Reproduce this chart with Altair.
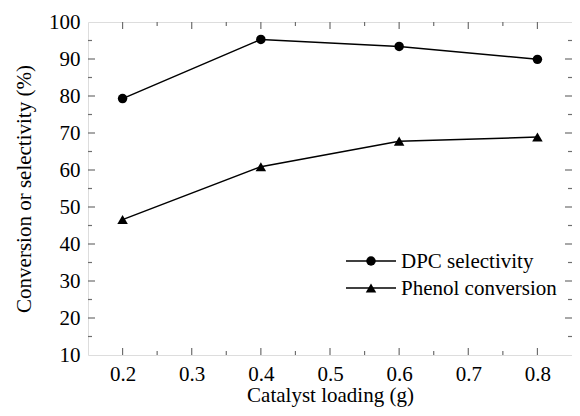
import altair as alt
import pandas as pd

loading = [0.2, 0.4, 0.6, 0.8]
dpc_selectivity = [79.3, 95.3, 93.4, 89.9]
phenol_conversion = [46.6, 60.9, 67.8, 68.9]
series_names = ["DPC selectivity", "Phenol conversion"]

x_major = [0.2, 0.3, 0.4, 0.5, 0.6, 0.7, 0.8]
x_minor = [0.25, 0.35, 0.45, 0.55, 0.65, 0.75]
y_labels = [10, 20, 30, 40, 50, 60, 70, 80, 90, 100]
y_major = [20, 30, 40, 50, 60, 70, 80, 90]
y_minor = [15, 25, 35, 45, 55, 65, 75, 85, 95]
x_domain = [0.15, 0.85]
y_domain = [10, 100]

W, H = 484, 333
FONT = "Liberation Serif"
FS = 21
GRAY = "#6e6e6e"

df = pd.DataFrame({
    "x": loading * 2,
    "y": dpc_selectivity + phenol_conversion,
    "s": [series_names[0]] * 4 + [series_names[1]] * 4,
})

xs = alt.Scale(domain=x_domain, nice=False, zero=False)
ys = alt.Scale(domain=y_domain, nice=False, zero=False)

xax = alt.Axis(values=x_major, format=".1f", title="Catalyst loading (g)",
               labelPadding=8, titlePadding=0, labelOverlap=False,
               labelFont=FONT, labelFontSize=FS, titleFont=FONT, titleFontSize=FS)
yax = alt.Axis(values=y_labels, title="Conversion or selectivity (%)",
               labelPadding=8, titlePadding=14, labelOverlap=False,
               labelFont=FONT, labelFontSize=FS, titleFont=FONT, titleFontSize=FS)

base = alt.Chart(df)
lines = base.mark_line(color="black", strokeWidth=1.5).encode(
    x=alt.X("x:Q", scale=xs, axis=xax),
    y=alt.Y("y:Q", scale=ys, axis=yax),
    detail="s:N",
)
pts = base.mark_point(filled=True, color="black", opacity=1).encode(
    x=alt.X("x:Q", scale=xs, axis=xax),
    y=alt.Y("y:Q", scale=ys, axis=yax),
    shape=alt.Shape("s:N", scale=alt.Scale(domain=series_names, range=["circle", "triangle-up"]), legend=None),
    size=alt.Size("s:N", scale=alt.Scale(domain=series_names, range=[90, 110]), legend=None),
)

def xticks(vals, length):
    d = pd.DataFrame({"t": vals})
    bot = alt.Chart(d).mark_rule(color=GRAY, strokeWidth=1.2).encode(
        x=alt.X("t:Q", scale=xs, axis=xax), y=alt.value(H), y2=alt.value(H - length))
    top = alt.Chart(d).mark_rule(color=GRAY, strokeWidth=1.2).encode(
        x=alt.X("t:Q", scale=xs, axis=xax), y=alt.value(0), y2=alt.value(length))
    return bot + top

def yticks(vals, length):
    d = pd.DataFrame({"t": vals})
    left = alt.Chart(d).mark_rule(color=GRAY, strokeWidth=1.2).encode(
        y=alt.Y("t:Q", scale=ys, axis=yax), x=alt.value(0), x2=alt.value(length))
    right = alt.Chart(d).mark_rule(color=GRAY, strokeWidth=1.2).encode(
        y=alt.Y("t:Q", scale=ys, axis=yax), x=alt.value(W), x2=alt.value(W - length))
    return left + right

ticks = xticks(x_major, 7) + xticks(x_minor, 4) + yticks(y_major, 7) + yticks(y_minor, 4)

# legend
leg_x0, leg_x1, leg_xm, leg_tx = 258, 308, 283, 313
leg_rows = [239, 266]
legend_layers = []
for i, name in enumerate(series_names):
    d = pd.DataFrame({"s": [name]})
    legend_layers.append(alt.Chart(d).mark_rule(color="black", strokeWidth=1.5).encode(
        x=alt.value(leg_x0), x2=alt.value(leg_x1), y=alt.value(leg_rows[i])))
    legend_layers.append(alt.Chart(d).mark_point(
        filled=True, color="black", opacity=1,
        shape=["circle", "triangle-up"][i], size=[90, 110][i]).encode(
        x=alt.value(leg_xm), y=alt.value(leg_rows[i])))
    legend_layers.append(alt.Chart(d).mark_text(
        font=FONT, fontSize=FS, align="left", baseline="middle", color="black").encode(
        x=alt.value(leg_tx), y=alt.value(leg_rows[i] + 1), text="s:N"))

chart = alt.layer(lines, pts, ticks, *legend_layers).properties(
    width=W, height=H,
    autosize=alt.AutoSizeParams(type="none"),
    padding={"left": 80, "top": 14, "right": 0, "bottom": 52},
).configure_view(stroke=GRAY, strokeWidth=1.6).configure(
    background="white", font=FONT
).configure_axis(
    ticks=False, grid=False, domain=False, labelFont=FONT, labelFontSize=FS,
    titleFont=FONT, titleFontSize=FS, titleFontWeight="normal",
    labelColor="black", titleColor="black", labelOverlap=False,
)

chart.save("out.html", embed_options={"renderer": "svg", "actions": False})
